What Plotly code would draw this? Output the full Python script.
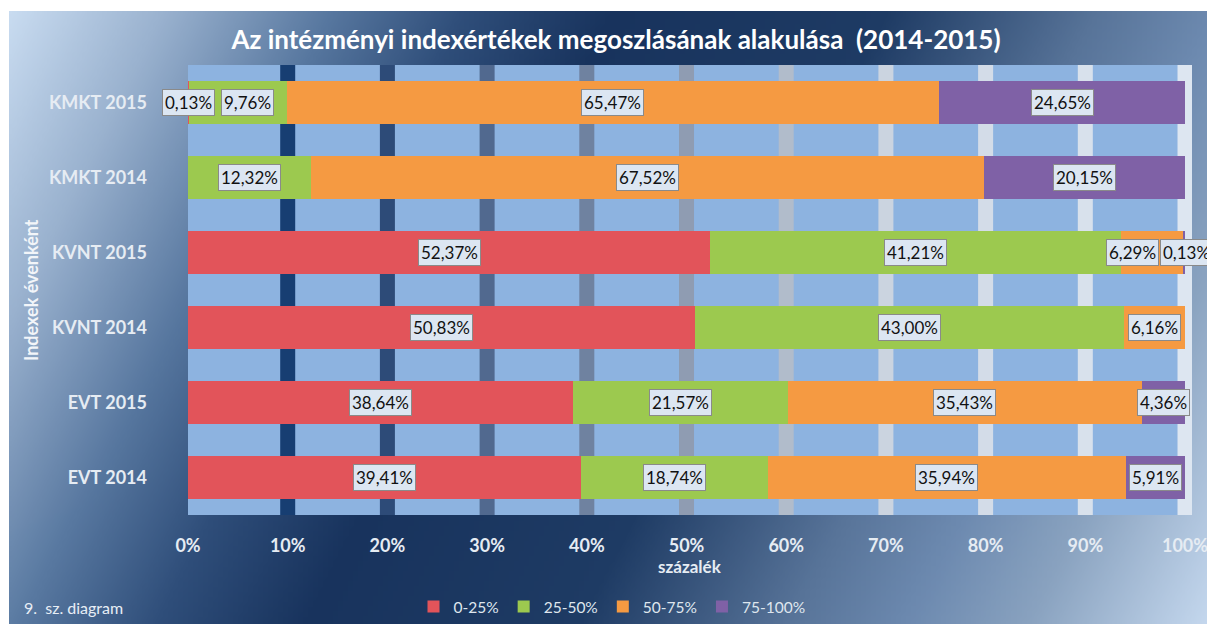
import base64, struct, zlib
import plotly.graph_objects as go

# ---------------- data ----------------
categories = ["KMKT 2015", "KMKT 2014", "KVNT 2015", "KVNT 2014", "EVT 2015", "EVT 2014"]
series_names = ["0-25%", "25-50%", "50-75%", "75-100%"]
s_0_25 = [0.13, 0.00, 52.37, 50.83, 38.64, 39.41]
s_25_50 = [9.76, 12.32, 41.21, 43.00, 21.57, 18.74]
s_50_75 = [65.47, 67.52, 6.29, 6.16, 35.43, 35.94]
s_75_100 = [24.65, 20.15, 0.13, 0.00, 4.36, 5.91]
x_ticks = [0, 10, 20, 30, 40, 50, 60, 70, 80, 90, 100]

# ---------------- styles ----------------
OFF = 8                      # page margin of the browser
W, H = 1215 - OFF, 624 - OFF  # figure size
L, R, T, B = 188 - OFF, 23, 65 - OFF, 109
FONT = "Lato"
bar_colors = ["#e2545a", "#9cc94f", "#f59a42", "#7f61a6"]
grid_colors = ["#173e72", "#2d4b78", "#51698f", "#6f82a0", "#8f9cb2",
               "#b1bccb", "#cbd4e0", "#d3dce8", "#d8e1ec", "#dde6f1"]
label_nudge = {(0, 1): 10, (2, 2): -20, (2, 3): 2}

series = [s_0_25, s_25_50, s_50_75, s_75_100]


def hex2rgb(h):
    h = h.lstrip("#")
    return tuple(int(h[i:i + 2], 16) for i in (0, 2, 4))


def make_gradient_png(w, h):
    stops = [(0.00, "#c8dbf0"), (0.10, "#9ab2cf"), (0.21, "#5878a0"), (0.30, "#2f4e7a"),
             (0.40, "#18335d"), (0.58, "#1e3b64"), (0.72, "#587499"), (0.80, "#6d8ab0"),
             (0.88, "#8aa3c0"), (1.00, "#c6d9ef")]
    stops = [(t, hex2rgb(c)) for t, c in stops]
    rows = []
    for j in range(h):
        row = bytearray([0])
        for i in range(w):
            px = i / (w - 1) * 1206
            py = j / (h - 1) * 613
            t = (px + 0.5 * py) / (1206 + 0.5 * 613)
            for k in range(len(stops) - 1):
                t0, c0 = stops[k]
                t1, c1 = stops[k + 1]
                if t <= t1 or k == len(stops) - 2:
                    f = min(max((t - t0) / (t1 - t0), 0), 1)
                    row.extend(int(round(c0[m] + (c1[m] - c0[m]) * f)) for m in range(3))
                    break
        rows.append(bytes(row))
    raw = b"".join(rows)

    def chunk(tag, data):
        return struct.pack(">I", len(data)) + tag + data + struct.pack(">I", zlib.crc32(tag + data) & 0xffffffff)

    png = b"\x89PNG\r\n\x1a\n" + chunk(b"IHDR", struct.pack(">IIBBBBB", w, h, 8, 2, 0, 0, 0))
    png += chunk(b"IDAT", zlib.compress(raw, 9)) + chunk(b"IEND", b"")
    return "data:image/png;base64," + base64.b64encode(png).decode()


pw, ph = W - L - R, H - T - B


def px_x(page_x):
    return (page_x - OFF - L) / pw


def px_y(page_y):
    return (H - B - (page_y - OFF)) / ph


fig = go.Figure()
for name, vals, col in zip(series_names, series, bar_colors):
    fig.add_trace(go.Bar(
        y=categories, x=[v / 100 for v in vals], name=name, orientation="h",
        marker=dict(color=col, line=dict(width=0)), hoverinfo="skip",
    ))

# data labels
for ci, cat in enumerate(categories):
    cum = 0.0
    for si, vals in enumerate(series):
        v = vals[ci]
        if v > 0:
            fig.add_annotation(
                x=(cum + v / 2) / 100, y=cat, xref="x", yref="y",
                text=f"{v:.2f}".replace(".", ",") + "%", showarrow=False,
                xshift=label_nudge.get((ci, si), 0),
                font=dict(family=FONT, size=17, color="#111111"),
                bgcolor="#dce6f2", bordercolor="#8a8a8a", borderwidth=1, borderpad=2,
            )
        cum += v

# plot-area background (drawn above the page gradient)
fig.add_shape(type="rect", xref="x domain", yref="y domain", x0=0, x1=1, y0=0, y1=1,
              fillcolor="#8db3e0", line=dict(width=0), layer="below")
# thick gridline bands
for k, tv in enumerate(x_ticks[1:]):
    fig.add_shape(type="line", xref="x", yref="y domain", x0=tv / 100, x1=tv / 100, y0=0, y1=1,
                  line=dict(color=grid_colors[k], width=15), layer="below")

fig.add_layout_image(dict(
    source=make_gradient_png(240, 122), xref="paper", yref="paper",
    x=px_x(9), y=px_y(11), sizex=(W - 1) / pw, sizey=(H - 3) / ph,
    sizing="stretch", xanchor="left", yanchor="top", layer="below",
))

fig.add_annotation(text="9.  sz. diagram", xref="paper", yref="paper",
                   x=px_x(22), y=px_y(607), xanchor="left", yanchor="middle",
                   showarrow=False, font=dict(family=FONT, size=16, color="#e8eef6"))
fig.add_annotation(text="<b>Indexek évenként</b>", xref="paper", yref="paper",
                   x=px_x(31), y=px_y(290), textangle=-90,
                   xanchor="center", yanchor="middle", showarrow=False,
                   font=dict(family=FONT, size=18, color="#f2f5f9"))
fig.add_annotation(text="<b>százalék</b>", xref="paper", yref="paper",
                   x=0.5, y=px_y(566), xanchor="center", yanchor="middle",
                   showarrow=False, font=dict(family=FONT, size=17, color="#e6ecf3"))

fig.update_layout(
    width=W, height=H, barmode="stack", bargap=0.43,
    paper_bgcolor="white", plot_bgcolor="rgba(0,0,0,0)",
    margin=dict(l=L, r=R, t=T, b=B, autoexpand=False),
    title=dict(text="<b>Az intézményi indexértékek megoszlásának alakulása  (2014-2015)</b>",
               x=(616 - OFF) / W, xref="container", y=1 - (40 - OFF) / H, yref="container",
               xanchor="center", yanchor="middle",
               font=dict(family=FONT, size=26, color="white")),
    xaxis=dict(range=[0, 1.007], tickvals=[t / 100 for t in x_ticks],
               ticktext=[f"{t}%" for t in x_ticks], showgrid=False, zeroline=False,
               ticklabelstandoff=18, automargin=False,
               tickfont=dict(family=FONT, size=18, color="#e6ecf3", weight="bold")),
    yaxis=dict(categoryorder="array", categoryarray=categories, autorange="reversed",
               showgrid=False, zeroline=False, ticklabelstandoff=40, automargin=False,
               tickfont=dict(family=FONT, size=18, color="#e6ecf3", weight="bold")),
    legend=dict(orientation="h", x=px_x(612), y=px_y(607), xanchor="center",
                yanchor="middle", bgcolor="rgba(0,0,0,0)", traceorder="normal",
                font=dict(family=FONT, size=15.5, color="#dfe6ee"), itemwidth=30,
                entrywidth=0),
    showlegend=True,
)

fig.write_html("out.html")
